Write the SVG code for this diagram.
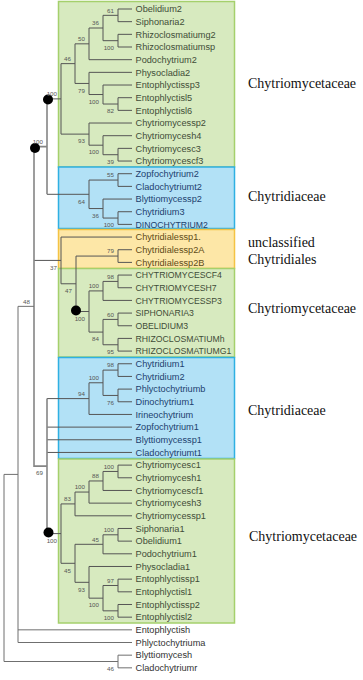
<svg xmlns="http://www.w3.org/2000/svg" width="363" height="680" viewBox="0 0 363 680">
<style>
.bg{fill:#fff}
.gbox{fill:#d7eabf;stroke:#a5d06c;stroke-width:1.5}
.bbox{fill:#b2e1f6;stroke:#2fb0e2;stroke-width:1.5}
.obox{fill:#fde7a7;stroke:#f4c344;stroke-width:1.5}
.br{fill:none;stroke:#555;stroke-width:1}
.gr{fill:none;stroke:#858585;stroke-width:1.6}
.lf{font-family:"Liberation Sans",Arial,sans-serif;font-size:9.2px}
.uc{font-size:8.7px}
.gt{fill:#3f4d38}.bt{fill:#1d3f6e}.ot{fill:#5e4b17}.kt{fill:#333}
.bs{font-family:"Liberation Sans",Arial,sans-serif;font-size:6.2px;fill:#555;text-anchor:end}
.fam{font-family:"Liberation Serif","Times New Roman",serif;font-size:14px;fill:#111}
.dot{fill:#000}
</style>
<rect class="bg" x="0" y="0" width="363" height="680"/>
<g id="boxes">
<rect class="gbox" x="58.5" y="1.5" width="176" height="165.5"/>
<rect class="bbox" x="58.5" y="167" width="176" height="61.5"/>
<rect class="obox" x="58.5" y="229.5" width="176" height="39"/>
<rect class="gbox" x="58.5" y="268.5" width="176" height="88.5"/>
<rect class="bbox" x="58.5" y="357.5" width="176" height="101"/>
<rect class="gbox" x="58.5" y="459" width="176" height="164"/>
</g>
<g id="connectors">
<path class="br" d="M132 9H118V21.67H132M132 34.34H118V47.01H132M118 15.34H103V40.68H118M103 28.01H89V59.68H132M132 97.69H118V110.36H132M132 85.02H103V104.03H118M132 72.35H89V94.52H103M89 43.84H75V83.44H89M132 148.37H118V161.04H132M132 135.7H103V154.71H118M132 123.03H89V145.2H103M75 63.64H61V134.12H89"/>
<path class="br" d="M132 173.71H118V186.38H132M132 211.72H118V224.39H132M132 199.05H103V218.06H118M118 180.05H89V208.55H103M47 194.3H89M47 98.88H61"/>
<path class="br" d="M132 249.73H118V262.4H132M132 275.07H118V287.74H132M118 281.41H103V300.41H132M132 313.08H118V325.75H132M132 338.42H118V351.09H132M118 319.42H103V344.76H118M103 290.91H89V332.09H103M118 256.07H76V311.5H89M132 237.06H61V283.78H76M34 260.42H61"/>
<path class="br" d="M132 363.76H118V376.43H132M132 389.1H118V401.77H132M118 370.1H103V395.44H118M103 382.77H89V414.44H132M47 398.6H89M47 427.11H132M47 439.78H132M47 452.45H132M47 533.6H61"/>
<path class="br" d="M132 465.12H118V477.79H132M118 471.46H103V490.46H132M103 480.96H89V503.13H132M89 492.05H75V515.8H132M132 528.47H118V541.14H132M118 534.81H103V553.81H132M132 579.15H118V591.82H132M132 604.49H118V617.16H132M118 585.49H103V610.83H118M132 566.48H89V598.16H103M103 544.31H75V582.32H89M75 503.92H61V563.3H75"/>
<path class="gr" d="M47 98.88V194.3M34 146.59H47M34 146.59V466.1H47M47 398.6V533.6"/>
<path class="br" d="M34 306.35H18V642.5H132M18 629.83H132M132 655.17H118V667.84H132M18 474.4H4V661.5H118" style="stroke:#6f6f6f"/>
<circle class="dot" cx="48" cy="99.5" r="5"/>
<circle class="dot" cx="35" cy="148" r="5"/>
<circle class="dot" cx="76" cy="310.5" r="5"/>
<circle class="dot" cx="48.5" cy="532.5" r="5"/>
</g>
<g id="support">
<text class="bs" x="114" y="12.54">61</text>
<text class="bs" x="114" y="49.88">100</text>
<text class="bs" x="99" y="25.21">36</text>
<text class="bs" x="85" y="41.04">50</text>
<text class="bs" x="71" y="60.84">46</text>
<text class="bs" x="85" y="92.64">79</text>
<text class="bs" x="99" y="103.72">100</text>
<text class="bs" x="114" y="113.23">82</text>
<text class="bs" x="57" y="96.08">100</text>
<text class="bs" x="85" y="143.32">93</text>
<text class="bs" x="99" y="154.4">100</text>
<text class="bs" x="114" y="163.91">39</text>
<text class="bs" x="43" y="143.5">100</text>
<text class="bs" x="114" y="177.25">55</text>
<text class="bs" x="85" y="203.5">64</text>
<text class="bs" x="99" y="217.75">36</text>
<text class="bs" x="114" y="227.26">100</text>
<text class="bs" x="114" y="253.27">79</text>
<text class="bs" x="57" y="269.62">37</text>
<text class="bs" x="72" y="292.98">47</text>
<text class="bs" x="114" y="278.61">98</text>
<text class="bs" x="99" y="288.11">100</text>
<text class="bs" x="85" y="320.7">100</text>
<text class="bs" x="114" y="316.62">60</text>
<text class="bs" x="99" y="341.29">84</text>
<text class="bs" x="114" y="353.96">95</text>
<text class="bs" x="114" y="367.3">98</text>
<text class="bs" x="99" y="379.97">100</text>
<text class="bs" x="85" y="395.8">94</text>
<text class="bs" x="114" y="404.64">76</text>
<text class="bs" x="30" y="303.55">48</text>
<text class="bs" x="43" y="475.3">69</text>
<text class="bs" x="114" y="468.66">100</text>
<text class="bs" x="99" y="478.16">88</text>
<text class="bs" x="85" y="489.25">100</text>
<text class="bs" x="71" y="501.12">83</text>
<text class="bs" x="57" y="542.8">100</text>
<text class="bs" x="114" y="532.01">100</text>
<text class="bs" x="99" y="541.51">45</text>
<text class="bs" x="71" y="572.5">45</text>
<text class="bs" x="114" y="582.69">97</text>
<text class="bs" x="85" y="591.52">93</text>
<text class="bs" x="99" y="607.36">100</text>
<text class="bs" x="114" y="620.03">100</text>
<text class="bs" x="114" y="670.7">46</text>
</g>
<g id="leaf-obelidium2"><text class="lf gt" x="135.5" y="12.2">Obelidium2</text></g>
<g id="leaf-siphonaria2"><text class="lf gt" x="135.5" y="24.87">Siphonaria2</text></g>
<g id="leaf-rhizoclosmatiumg2"><text class="lf gt" x="135.5" y="37.54">Rhizoclosmatiumg2</text></g>
<g id="leaf-rhizoclosmatiumsp"><text class="lf gt" x="135.5" y="50.21">Rhizoclosmatiumsp</text></g>
<g id="leaf-podochytrium2"><text class="lf gt" x="135.5" y="62.88">Podochytrium2</text></g>
<g id="leaf-physocladia2"><text class="lf gt" x="135.5" y="75.55">Physocladia2</text></g>
<g id="leaf-entophlyctissp3"><text class="lf gt" x="135.5" y="88.22">Entophlyctissp3</text></g>
<g id="leaf-entophlyctisl5"><text class="lf gt" x="135.5" y="100.89">Entophlyctisl5</text></g>
<g id="leaf-entophlyctisl6"><text class="lf gt" x="135.5" y="113.56">Entophlyctisl6</text></g>
<g id="leaf-chytriomycessp2"><text class="lf gt" x="135.5" y="126.23">Chytriomycessp2</text></g>
<g id="leaf-chytriomycesh4"><text class="lf gt" x="135.5" y="138.9">Chytriomycesh4</text></g>
<g id="leaf-chytriomycesc3"><text class="lf gt" x="135.5" y="151.57">Chytriomycesc3</text></g>
<g id="leaf-chytriomycescf3"><text class="lf gt" x="135.5" y="164.24">Chytriomycescf3</text></g>
<g id="leaf-zopfochytrium2"><text class="lf bt" x="135.5" y="176.91">Zopfochytrium2</text></g>
<g id="leaf-cladochytriumt2"><text class="lf bt" x="135.5" y="189.58">Cladochytriumt2</text></g>
<g id="leaf-blyttiomycessp2"><text class="lf bt" x="135.5" y="202.25">Blyttiomycessp2</text></g>
<g id="leaf-chytridium3"><text class="lf bt" x="135.5" y="214.92">Chytridium3</text></g>
<g id="leaf-dinochytrium2"><text class="lf uc bt" x="135.5" y="227.59">DINOCHYTRIUM2</text></g>
<g id="leaf-chytridialessp1"><text class="lf ot" x="135.5" y="240.26">Chytridialessp1.</text></g>
<g id="leaf-chytridialessp2a"><text class="lf ot" x="135.5" y="252.93">Chytridialessp2A</text></g>
<g id="leaf-chytridialessp2b"><text class="lf ot" x="135.5" y="265.6">Chytridialessp2B</text></g>
<g id="leaf-chytriomycescf4"><text class="lf uc gt" x="135.5" y="278.27">CHYTRIOMYCESCF4</text></g>
<g id="leaf-chytriomycesh7"><text class="lf uc gt" x="135.5" y="290.94">CHYTRIOMYCESH7</text></g>
<g id="leaf-chytriomycessp3"><text class="lf uc gt" x="135.5" y="303.61">CHYTRIOMYCESSP3</text></g>
<g id="leaf-siphonaria3"><text class="lf uc gt" x="135.5" y="316.28">SIPHONARIA3</text></g>
<g id="leaf-obelidium3"><text class="lf uc gt" x="135.5" y="328.95">OBELIDIUM3</text></g>
<g id="leaf-rhizoclosmatiumh"><text class="lf uc gt" x="135.5" y="341.62">RHIZOCLOSMATIUMh</text></g>
<g id="leaf-rhizoclosmatiumg1"><text class="lf uc gt" x="135.5" y="354.29">RHIZOCLOSMATIUMG1</text></g>
<g id="leaf-chytridium1"><text class="lf bt" x="135.5" y="366.96">Chytridium1</text></g>
<g id="leaf-chytridium2"><text class="lf bt" x="135.5" y="379.63">Chytridium2</text></g>
<g id="leaf-phlyctochytriumb"><text class="lf bt" x="135.5" y="392.3">Phlyctochytriumb</text></g>
<g id="leaf-dinochytrium1"><text class="lf bt" x="135.5" y="404.97">Dinochytrium1</text></g>
<g id="leaf-irineochytrium"><text class="lf bt" x="135.5" y="417.64">Irineochytrium</text></g>
<g id="leaf-zopfochytrium1"><text class="lf bt" x="135.5" y="430.31">Zopfochytrium1</text></g>
<g id="leaf-blyttiomycessp1"><text class="lf bt" x="135.5" y="442.98">Blyttiomycessp1</text></g>
<g id="leaf-cladochytriumt1"><text class="lf bt" x="135.5" y="455.65">Cladochytriumt1</text></g>
<g id="leaf-chytriomycesc1"><text class="lf gt" x="135.5" y="468.32">Chytriomycesc1</text></g>
<g id="leaf-chytriomycesh1"><text class="lf gt" x="135.5" y="480.99">Chytriomycesh1</text></g>
<g id="leaf-chytriomycescf1"><text class="lf gt" x="135.5" y="493.66">Chytriomycescf1</text></g>
<g id="leaf-chytriomycesh3"><text class="lf gt" x="135.5" y="506.33">Chytriomycesh3</text></g>
<g id="leaf-chytriomycessp1"><text class="lf gt" x="135.5" y="519">Chytriomycessp1</text></g>
<g id="leaf-siphonaria1"><text class="lf gt" x="135.5" y="531.67">Siphonaria1</text></g>
<g id="leaf-obelidium1"><text class="lf gt" x="135.5" y="544.34">Obelidium1</text></g>
<g id="leaf-podochytrium1"><text class="lf gt" x="135.5" y="557.01">Podochytrium1</text></g>
<g id="leaf-physocladia1"><text class="lf gt" x="135.5" y="569.68">Physocladia1</text></g>
<g id="leaf-entophlyctissp1"><text class="lf gt" x="135.5" y="582.35">Entophlyctissp1</text></g>
<g id="leaf-entophlyctisl1"><text class="lf gt" x="135.5" y="595.02">Entophlyctisl1</text></g>
<g id="leaf-entophlyctissp2"><text class="lf gt" x="135.5" y="607.69">Entophlyctissp2</text></g>
<g id="leaf-entophlyctisl2"><text class="lf gt" x="135.5" y="620.36">Entophlyctisl2</text></g>
<g id="leaf-entophlyctish"><text class="lf kt" x="135.5" y="633.03">Entophlyctish</text></g>
<g id="leaf-phlyctochytriuma"><text class="lf kt" x="135.5" y="645.7">Phlyctochytriuma</text></g>
<g id="leaf-blyttiomycesh"><text class="lf kt" x="135.5" y="658.37">Blyttiomycesh</text></g>
<g id="leaf-cladochytriumr"><text class="lf kt" x="135.5" y="671.04">Cladochytriumr</text></g>
<g id="families">
<text class="fam" x="248" y="88">Chytriomycetaceae</text>
<text class="fam" x="248" y="201">Chytridiaceae</text>
<text class="fam" x="248" y="247">unclassified</text>
<text class="fam" x="248" y="264">Chytridiales</text>
<text class="fam" x="248" y="313">Chytriomycetaceae</text>
<text class="fam" x="248" y="415">Chytridiaceae</text>
<text class="fam" x="249" y="541">Chytriomycetaceae</text>
</g>
</svg>
